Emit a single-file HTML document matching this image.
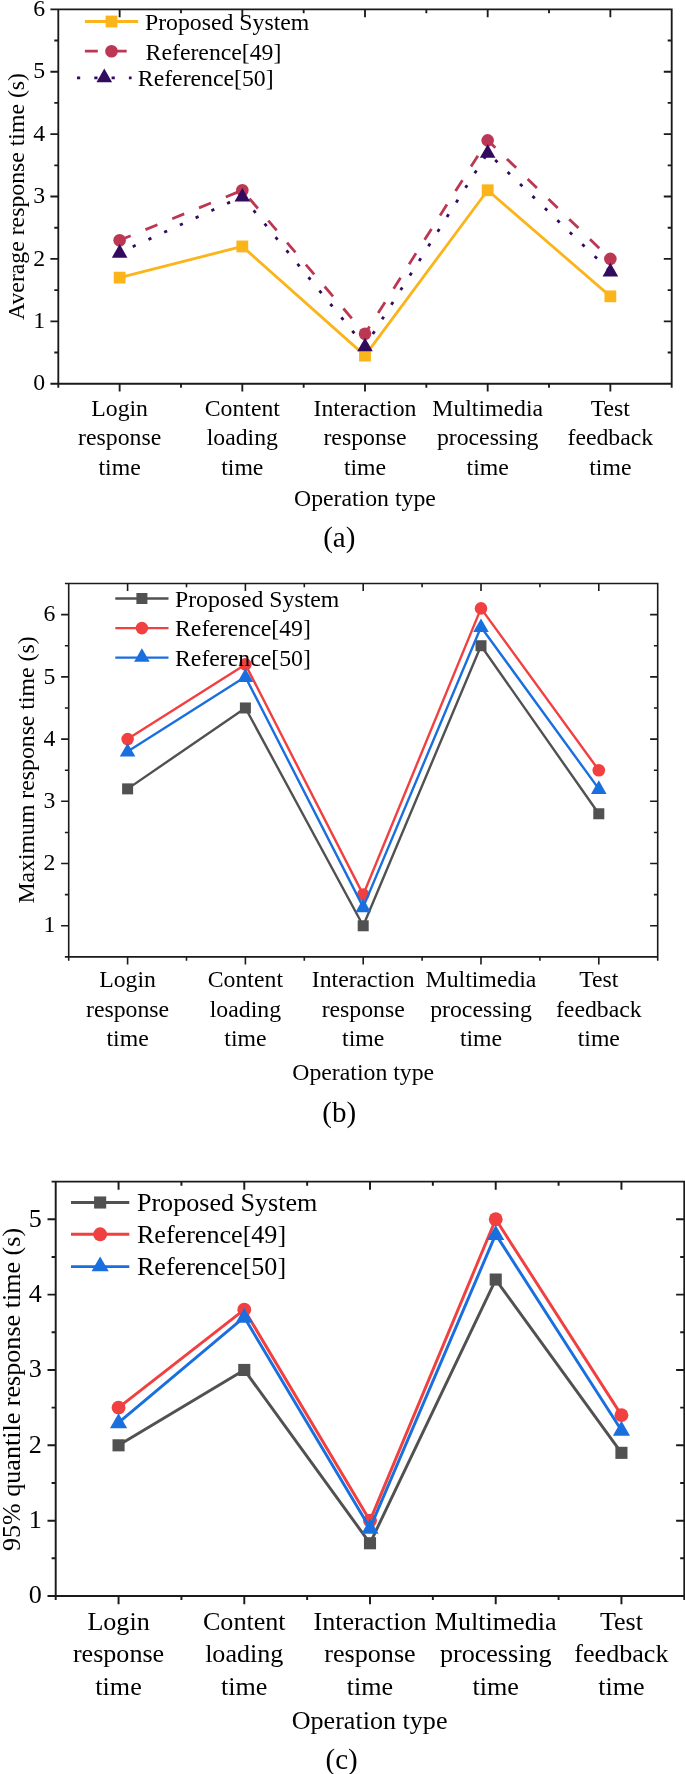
<!DOCTYPE html>
<html><head><meta charset="utf-8"><title>Response time comparison</title>
<style>html,body{margin:0;padding:0;background:#fff;}body{width:685px;height:1774px;overflow:hidden;}svg{display:block;will-change:transform;font-family:'Liberation Serif', serif;fill:#000;}</style></head><body>
<svg width="685" height="1774" viewBox="0 0 685 1774">
<rect width="685" height="1774" fill="#fff"/>
<g>
<polyline points="119.64,277.62 242.32,246.42 365,355.62 487.68,190.26 610.36,296.34" fill="none" stroke="#FBB41A" stroke-width="2.8" stroke-linejoin="round"/>
<rect x="113.74" y="271.72" width="11.8" height="11.8" fill="#FBB41A"/>
<rect x="236.42" y="240.52" width="11.8" height="11.8" fill="#FBB41A"/>
<rect x="359.1" y="349.72" width="11.8" height="11.8" fill="#FBB41A"/>
<rect x="481.78" y="184.36" width="11.8" height="11.8" fill="#FBB41A"/>
<rect x="604.46" y="290.44" width="11.8" height="11.8" fill="#FBB41A"/>
<polyline points="119.64,240.18 242.32,190.26 365,333.78 487.68,140.34 610.36,258.9" fill="none" stroke="#BB3754" stroke-width="2.8" stroke-linejoin="round" stroke-dasharray="12.9 16.0" stroke-dashoffset="1.0"/>
<circle cx="119.64" cy="240.18" r="6.3" fill="#BB3754"/>
<circle cx="242.32" cy="190.26" r="6.3" fill="#BB3754"/>
<circle cx="365" cy="333.78" r="6.3" fill="#BB3754"/>
<circle cx="487.68" cy="140.34" r="6.3" fill="#BB3754"/>
<circle cx="610.36" cy="258.9" r="6.3" fill="#BB3754"/>
<polyline points="119.64,252.66 242.32,196.5 365,346.26 487.68,152.82 610.36,271.38" fill="none" stroke="#320A5E" stroke-width="2.8" stroke-linejoin="round" stroke-dasharray="3.2 14.1" stroke-dashoffset="2.9"/>
<path d="M119.64 244.11 L127.44 257.71 L111.84 257.71 Z" fill="#320A5E"/>
<path d="M242.32 187.95 L250.12 201.55 L234.52 201.55 Z" fill="#320A5E"/>
<path d="M365 337.71 L372.8 351.31 L357.2 351.31 Z" fill="#320A5E"/>
<path d="M487.68 144.27 L495.48 157.87 L479.88 157.87 Z" fill="#320A5E"/>
<path d="M610.36 262.83 L618.16 276.43 L602.56 276.43 Z" fill="#320A5E"/>
<path d="M58.3 9.3 H671.7 V383.7 H58.3 Z M119.64 383.7 v7.9 M119.64 9.3 v7.9 M242.32 383.7 v7.9 M242.32 9.3 v7.9 M365 383.7 v7.9 M365 9.3 v7.9 M487.68 383.7 v7.9 M487.68 9.3 v7.9 M610.36 383.7 v7.9 M610.36 9.3 v7.9 M58.3 383.7 v4 M180.98 383.7 v4 M180.98 9.3 v4 M303.66 383.7 v4 M303.66 9.3 v4 M426.34 383.7 v4 M426.34 9.3 v4 M549.02 383.7 v4 M549.02 9.3 v4 M671.7 383.7 v4 M58.3 383.7 h-7.9 M58.3 352.5 h-4 M671.7 352.5 h-4 M58.3 321.3 h-7.9 M671.7 321.3 h-7.9 M58.3 290.1 h-4 M671.7 290.1 h-4 M58.3 258.9 h-7.9 M671.7 258.9 h-7.9 M58.3 227.7 h-4 M671.7 227.7 h-4 M58.3 196.5 h-7.9 M671.7 196.5 h-7.9 M58.3 165.3 h-4 M671.7 165.3 h-4 M58.3 134.1 h-7.9 M671.7 134.1 h-7.9 M58.3 102.9 h-4 M671.7 102.9 h-4 M58.3 71.7 h-7.9 M671.7 71.7 h-7.9 M58.3 40.5 h-4 M671.7 40.5 h-4 M58.3 9.3 h-7.9" fill="none" stroke="#1a1a1a" stroke-width="1.85" stroke-linecap="butt"/>
<g font-size="23.75" text-anchor="end">
<text x="45" y="390.41">0</text>
<text x="45" y="328.01">1</text>
<text x="45" y="265.61">2</text>
<text x="45" y="203.21">3</text>
<text x="45" y="140.81">4</text>
<text x="45" y="78.41">5</text>
<text x="45" y="16.01">6</text>
</g>
<g font-size="23.75" text-anchor="middle">
<text x="119.64" y="416">Login</text>
<text x="119.64" y="444.9">response</text>
<text x="119.64" y="474.6">time</text>
<text x="242.32" y="416">Content</text>
<text x="242.32" y="444.9">loading</text>
<text x="242.32" y="474.6">time</text>
<text x="365" y="416">Interaction</text>
<text x="365" y="444.9">response</text>
<text x="365" y="474.6">time</text>
<text x="487.68" y="416">Multimedia</text>
<text x="487.68" y="444.9">processing</text>
<text x="487.68" y="474.6">time</text>
<text x="610.36" y="416">Test</text>
<text x="610.36" y="444.9">feedback</text>
<text x="610.36" y="474.6">time</text>
<text x="364.9" y="505.5">Operation type</text>
</g>
<text font-size="23.75" text-anchor="middle" transform="translate(23.6 196.5) rotate(-90)">Average response time (s)</text>
<text font-size="29" text-anchor="middle" x="339.3" y="547">(a)</text>
<path d="M84.9 21.5 H138.1" stroke="#FBB41A" stroke-width="2.8" fill="none"/>
<rect x="105.6" y="15.6" width="11.8" height="11.8" fill="#FBB41A"/>
<text font-size="23.75" x="145" y="30">Proposed System</text>
<path d="M84.9 51.2 H138.1" stroke="#BB3754" stroke-width="2.8" fill="none" stroke-dasharray="12.9 16.0"/>
<circle cx="111.5" cy="51.2" r="6.3" fill="#BB3754"/>
<text font-size="23.75" x="145.6" y="59.7">Reference[49]</text>
<path d="M77 77.9 H131.6" stroke="#320A5E" stroke-width="2.8" fill="none" stroke-dasharray="3.2 14.1" stroke-dashoffset="0"/>
<path d="M104.3 68.55 L112.1 82.15 L96.5 82.15 Z" fill="#320A5E"/>
<text font-size="23.75" x="137.8" y="86">Reference[50]</text>
</g>
<g>
<polyline points="127.6,788.87 245.4,707.97 363.2,925.78 481,645.73 598.8,813.76" fill="none" stroke="#515151" stroke-width="2.4" stroke-linejoin="round"/>
<rect x="122.1" y="783.37" width="11" height="11" fill="#515151"/>
<rect x="239.9" y="702.47" width="11" height="11" fill="#515151"/>
<rect x="357.7" y="920.28" width="11" height="11" fill="#515151"/>
<rect x="475.5" y="640.23" width="11" height="11" fill="#515151"/>
<rect x="593.3" y="808.26" width="11" height="11" fill="#515151"/>
<polyline points="127.6,739.08 245.4,664.4 363.2,894.67 481,608.39 598.8,770.2" fill="none" stroke="#F14040" stroke-width="2.4" stroke-linejoin="round"/>
<circle cx="127.6" cy="739.08" r="6.3" fill="#F14040"/>
<circle cx="245.4" cy="664.4" r="6.3" fill="#F14040"/>
<circle cx="363.2" cy="894.67" r="6.3" fill="#F14040"/>
<circle cx="481" cy="608.39" r="6.3" fill="#F14040"/>
<circle cx="598.8" cy="770.2" r="6.3" fill="#F14040"/>
<polyline points="127.6,751.53 245.4,676.85 363.2,907.11 481,627.06 598.8,788.87" fill="none" stroke="#1A6FDF" stroke-width="2.4" stroke-linejoin="round"/>
<path d="M127.6 742.98 L135.4 756.58 L119.8 756.58 Z" fill="#1A6FDF"/>
<path d="M245.4 668.3 L253.2 681.9 L237.6 681.9 Z" fill="#1A6FDF"/>
<path d="M363.2 898.56 L371 912.16 L355.4 912.16 Z" fill="#1A6FDF"/>
<path d="M481 618.51 L488.8 632.11 L473.2 632.11 Z" fill="#1A6FDF"/>
<path d="M598.8 780.32 L606.6 793.92 L591 793.92 Z" fill="#1A6FDF"/>
<path d="M68.7 583.5 H657.7 V956.9 H68.7 Z M127.6 956.9 v7.6 M127.6 583.5 v7.6 M245.4 956.9 v7.6 M245.4 583.5 v7.6 M363.2 956.9 v7.6 M363.2 583.5 v7.6 M481 956.9 v7.6 M481 583.5 v7.6 M598.8 956.9 v7.6 M598.8 583.5 v7.6 M68.7 956.9 v3.8 M186.5 956.9 v3.8 M186.5 583.5 v3.8 M304.3 956.9 v3.8 M304.3 583.5 v3.8 M422.1 956.9 v3.8 M422.1 583.5 v3.8 M539.9 956.9 v3.8 M539.9 583.5 v3.8 M657.7 956.9 v3.8 M68.7 956.9 h-3.8 M68.7 925.78 h-7.6 M657.7 925.78 h-7.6 M68.7 894.67 h-3.8 M657.7 894.67 h-3.8 M68.7 863.55 h-7.6 M657.7 863.55 h-7.6 M68.7 832.43 h-3.8 M657.7 832.43 h-3.8 M68.7 801.32 h-7.6 M657.7 801.32 h-7.6 M68.7 770.2 h-3.8 M657.7 770.2 h-3.8 M68.7 739.08 h-7.6 M657.7 739.08 h-7.6 M68.7 707.97 h-3.8 M657.7 707.97 h-3.8 M68.7 676.85 h-7.6 M657.7 676.85 h-7.6 M68.7 645.73 h-3.8 M657.7 645.73 h-3.8 M68.7 614.62 h-7.6 M657.7 614.62 h-7.6 M68.7 583.5 h-3.8" fill="none" stroke="#1a1a1a" stroke-width="1.6" stroke-linecap="butt"/>
<g font-size="23.75" text-anchor="end">
<text x="55.4" y="932.49">1</text>
<text x="55.4" y="870.26">2</text>
<text x="55.4" y="808.02">3</text>
<text x="55.4" y="745.79">4</text>
<text x="55.4" y="683.56">5</text>
<text x="55.4" y="621.32">6</text>
</g>
<g font-size="23.75" text-anchor="middle">
<text x="127.6" y="987.1">Login</text>
<text x="127.6" y="1016.6">response</text>
<text x="127.6" y="1046.1">time</text>
<text x="245.4" y="987.1">Content</text>
<text x="245.4" y="1016.6">loading</text>
<text x="245.4" y="1046.1">time</text>
<text x="363.2" y="987.1">Interaction</text>
<text x="363.2" y="1016.6">response</text>
<text x="363.2" y="1046.1">time</text>
<text x="481" y="987.1">Multimedia</text>
<text x="481" y="1016.6">processing</text>
<text x="481" y="1046.1">time</text>
<text x="598.8" y="987.1">Test</text>
<text x="598.8" y="1016.6">feedback</text>
<text x="598.8" y="1046.1">time</text>
<text x="363.2" y="1079.5">Operation type</text>
</g>
<text font-size="23.75" text-anchor="middle" transform="translate(33.8 770) rotate(-90)">Maximum response time (s)</text>
<text font-size="29" text-anchor="middle" x="339.2" y="1121.5">(b)</text>
<path d="M115.3 598.5 H168.5" stroke="#515151" stroke-width="2.4" fill="none"/>
<rect x="136.4" y="593" width="11" height="11" fill="#515151"/>
<text font-size="23.75" x="175" y="606.9">Proposed System</text>
<path d="M115.3 628.1 H168.5" stroke="#F14040" stroke-width="2.4" fill="none"/>
<circle cx="141.9" cy="628.1" r="6.3" fill="#F14040"/>
<text font-size="23.75" x="175" y="636.4">Reference[49]</text>
<path d="M115.3 657.6 H168.5" stroke="#1A6FDF" stroke-width="2.4" fill="none"/>
<path d="M141.9 648.25 L149.7 661.85 L134.1 661.85 Z" fill="#1A6FDF"/>
<text font-size="23.75" x="175" y="665.7">Reference[50]</text>
</g>
<g>
<polyline points="118.56,1445.31 244.28,1369.96 370,1543.26 495.72,1279.55 621.44,1452.84" fill="none" stroke="#515151" stroke-width="2.95" stroke-linejoin="round"/>
<rect x="112.51" y="1439.26" width="12.1" height="12.1" fill="#515151"/>
<rect x="238.23" y="1363.91" width="12.1" height="12.1" fill="#515151"/>
<rect x="363.95" y="1537.21" width="12.1" height="12.1" fill="#515151"/>
<rect x="489.67" y="1273.5" width="12.1" height="12.1" fill="#515151"/>
<rect x="615.39" y="1446.79" width="12.1" height="12.1" fill="#515151"/>
<polyline points="118.56,1407.64 244.28,1309.69 370,1520.65 495.72,1219.27 621.44,1415.17" fill="none" stroke="#F14040" stroke-width="2.95" stroke-linejoin="round"/>
<circle cx="118.56" cy="1407.64" r="6.93" fill="#F14040"/>
<circle cx="244.28" cy="1309.69" r="6.93" fill="#F14040"/>
<circle cx="370" cy="1520.65" r="6.93" fill="#F14040"/>
<circle cx="495.72" cy="1219.27" r="6.93" fill="#F14040"/>
<circle cx="621.44" cy="1415.17" r="6.93" fill="#F14040"/>
<polyline points="118.56,1422.71 244.28,1317.22 370,1528.19 495.72,1234.34 621.44,1430.24" fill="none" stroke="#1A6FDF" stroke-width="2.95" stroke-linejoin="round"/>
<path d="M118.56 1413.3 L127.14 1428.26 L109.98 1428.26 Z" fill="#1A6FDF"/>
<path d="M244.28 1307.82 L252.86 1322.78 L235.7 1322.78 Z" fill="#1A6FDF"/>
<path d="M370 1518.78 L378.58 1533.74 L361.42 1533.74 Z" fill="#1A6FDF"/>
<path d="M495.72 1224.94 L504.3 1239.9 L487.14 1239.9 Z" fill="#1A6FDF"/>
<path d="M621.44 1420.84 L630.02 1435.8 L612.86 1435.8 Z" fill="#1A6FDF"/>
<path d="M55.7 1181.6 H684.3 V1596 H55.7 Z M118.56 1596 v8.2 M118.56 1181.6 v8.2 M244.28 1596 v8.2 M244.28 1181.6 v8.2 M370 1596 v8.2 M370 1181.6 v8.2 M495.72 1596 v8.2 M495.72 1181.6 v8.2 M621.44 1596 v8.2 M621.44 1181.6 v8.2 M55.7 1596 v4.1 M181.42 1596 v4.1 M181.42 1181.6 v4.1 M307.14 1596 v4.1 M307.14 1181.6 v4.1 M432.86 1596 v4.1 M432.86 1181.6 v4.1 M558.58 1596 v4.1 M558.58 1181.6 v4.1 M684.3 1596 v4.1 M55.7 1596 h-8.2 M55.7 1558.33 h-4.1 M684.3 1558.33 h-4.1 M55.7 1520.65 h-8.2 M684.3 1520.65 h-8.2 M55.7 1482.98 h-4.1 M684.3 1482.98 h-4.1 M55.7 1445.31 h-8.2 M684.3 1445.31 h-8.2 M55.7 1407.64 h-4.1 M684.3 1407.64 h-4.1 M55.7 1369.96 h-8.2 M684.3 1369.96 h-8.2 M55.7 1332.29 h-4.1 M684.3 1332.29 h-4.1 M55.7 1294.62 h-8.2 M684.3 1294.62 h-8.2 M55.7 1256.95 h-4.1 M684.3 1256.95 h-4.1 M55.7 1219.27 h-8.2 M684.3 1219.27 h-8.2 M55.7 1181.6 h-4.1" fill="none" stroke="#1a1a1a" stroke-width="1.95" stroke-linecap="butt"/>
<g font-size="26.1" text-anchor="end">
<text x="41.7" y="1603.49">0</text>
<text x="41.7" y="1528.15">1</text>
<text x="41.7" y="1452.8">2</text>
<text x="41.7" y="1377.46">3</text>
<text x="41.7" y="1302.11">4</text>
<text x="41.7" y="1226.77">5</text>
</g>
<g font-size="26.1" text-anchor="middle">
<text x="118.56" y="1630.2">Login</text>
<text x="118.56" y="1662.1">response</text>
<text x="118.56" y="1694.6">time</text>
<text x="244.28" y="1630.2">Content</text>
<text x="244.28" y="1662.1">loading</text>
<text x="244.28" y="1694.6">time</text>
<text x="370" y="1630.2">Interaction</text>
<text x="370" y="1662.1">response</text>
<text x="370" y="1694.6">time</text>
<text x="495.72" y="1630.2">Multimedia</text>
<text x="495.72" y="1662.1">processing</text>
<text x="495.72" y="1694.6">time</text>
<text x="621.44" y="1630.2">Test</text>
<text x="621.44" y="1662.1">feedback</text>
<text x="621.44" y="1694.6">time</text>
<text x="369.6" y="1729.1">Operation type</text>
</g>
<text font-size="26.1" text-anchor="middle" transform="translate(20.3 1389.5) rotate(-90)">95% quantile response time (s)</text>
<text font-size="29" text-anchor="middle" x="341.6" y="1768.6">(c)</text>
<path d="M71 1202.5 H129.3" stroke="#515151" stroke-width="2.95" fill="none"/>
<rect x="94.1" y="1196.45" width="12.1" height="12.1" fill="#515151"/>
<text font-size="26.1" x="136.9" y="1210.8">Proposed System</text>
<path d="M71 1234.3 H129.3" stroke="#F14040" stroke-width="2.95" fill="none"/>
<circle cx="100.15" cy="1234.3" r="6.93" fill="#F14040"/>
<text font-size="26.1" x="136.9" y="1242.6">Reference[49]</text>
<path d="M71 1266.6 H129.3" stroke="#1A6FDF" stroke-width="2.95" fill="none"/>
<path d="M100.15 1256.39 L108.73 1271.36 L91.57 1271.36 Z" fill="#1A6FDF"/>
<text font-size="26.1" x="136.9" y="1274.6">Reference[50]</text>
</g>
</svg></body></html>
